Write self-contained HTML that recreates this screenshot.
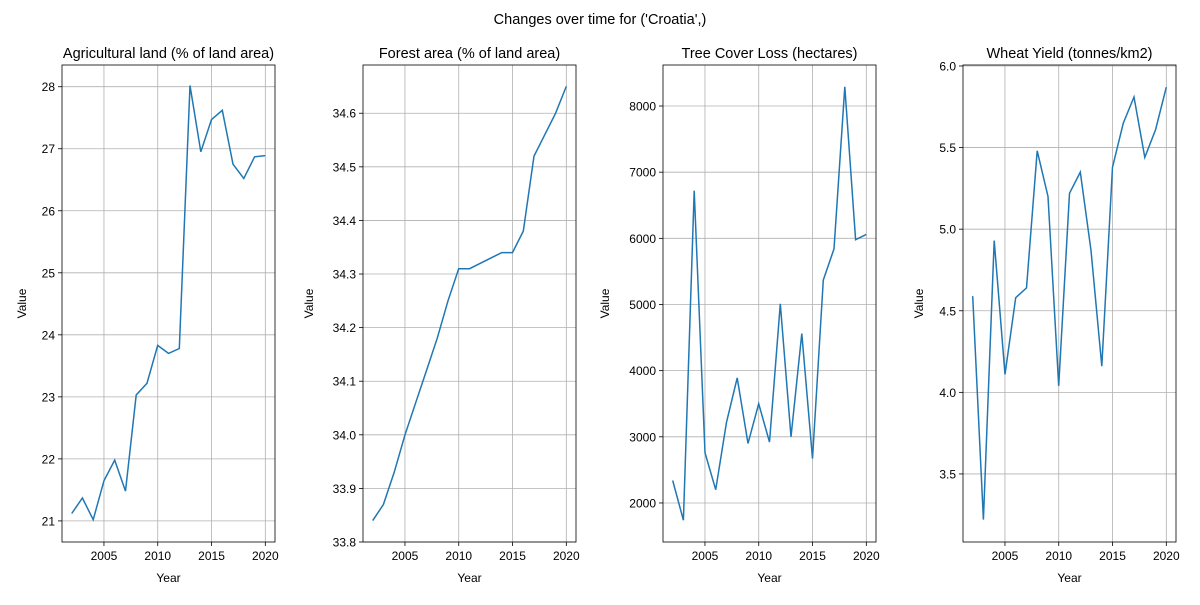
<!DOCTYPE html>
<html><head><meta charset="utf-8"><style>
body{margin:0;background:#fff;font-family:"Liberation Sans","DejaVu Sans",sans-serif;}
</style></head><body>
<svg id="fig" width="1200" height="600" xmlns="http://www.w3.org/2000/svg">
<text x="600" y="24" text-anchor="middle" font-size="14.5">Changes over time for ('Croatia',)</text>
</svg>
<script>
const years=[2002,2003,2004,2005,2006,2007,2008,2009,2010,2011,2012,2013,2014,2015,2016,2017,2018,2019,2020];
const agriValues=[21.12,21.37,21.02,21.65,21.98,21.48,23.03,23.22,23.83,23.70,23.78,28.02,26.95,27.47,27.62,26.75,26.52,26.87,26.89];
const forestValues=[33.84,33.87,33.93,34.00,34.06,34.12,34.18,34.25,34.31,34.31,34.32,34.33,34.34,34.34,34.38,34.52,34.56,34.60,34.65];
const lossValues=[2340,1740,6720,2760,2200,3220,3890,2900,3500,2920,5010,3000,4560,2670,5370,5840,8290,5980,6060];
const wheatValues=[4.59,3.22,4.93,4.11,4.58,4.64,5.48,5.20,4.04,5.22,5.35,4.87,4.16,5.38,5.65,5.81,5.44,5.61,5.87];
const xTicks=[2005,2010,2015,2020];
const agriTicks=[21,22,23,24,25,26,27,28];
const forestTicks=[33.8,33.9,34.0,34.1,34.2,34.3,34.4,34.5,34.6];
const lossTicks=[2000,3000,4000,5000,6000,7000,8000];
const wheatTicks=[3.5,4.0,4.5,5.0,5.5,6.0];
const titles=["Agricultural land (% of land area)","Forest area (% of land area)","Tree Cover Loss (hectares)","Wheat Yield (tonnes/km2)"];
const NS="http://www.w3.org/2000/svg";
const svg=document.getElementById('fig');
function mk(tag,attrs,parent){const e=document.createElementNS(NS,tag);for(const k in attrs)e.setAttribute(k,attrs[k]);(parent||svg).appendChild(e);return e;}
const panels=[
 {left:62,vals:agriValues,ticks:agriTicks,ymin:20.66,ymax:28.35,fmt:v=>String(v),slug:'agricultural-land',ylx:26},
 {left:363,vals:forestValues,ticks:forestTicks,ymin:33.8,ymax:34.69,fmt:v=>v.toFixed(1),slug:'forest-area',ylx:313},
 {left:663,vals:lossValues,ticks:lossTicks,ymin:1410,ymax:8620,fmt:v=>String(v),slug:'tree-cover-loss',ylx:609},
 {left:963,vals:wheatValues,ticks:wheatTicks,ymin:3.083,ymax:6.006,fmt:v=>v.toFixed(1),slug:'wheat-yield',ylx:923}
];
const axTop=65,axBottom=542,axW=213,xmin=2001.1,xmax=2020.9;
panels.forEach((p,i)=>{
 const g=mk('g',{});
 
 
 const X=v=>p.left+(v-xmin)/(xmax-xmin)*axW;
 const Y=v=>axBottom-(v-p.ymin)/(p.ymax-p.ymin)*(axBottom-axTop);
 xTicks.forEach(t=>{
  const x=X(t);
  const gl=mk('line',{x1:x,x2:x,y1:axTop,y2:axBottom,stroke:'#b0b0b0','stroke-width':0.8},g);
  
  
  mk('line',{x1:x,x2:x,y1:axBottom,y2:axBottom+4,stroke:'#000','stroke-width':0.8},g);
  const tl=mk('text',{x:x,y:axBottom+18,'text-anchor':'middle','font-size':12},g);
  tl.textContent=t;
  
  
 });
 p.ticks.forEach(t=>{
  const y=Y(t);
  const gl=mk('line',{x1:p.left,x2:p.left+axW,y1:y,y2:y,stroke:'#b0b0b0','stroke-width':0.8},g);
  
  
  mk('line',{x1:p.left-4,x2:p.left,y1:y,y2:y,stroke:'#000','stroke-width':0.8},g);
  const tl=mk('text',{x:p.left-7,y:y+4.5,'text-anchor':'end','font-size':12},g);
  tl.textContent=p.fmt(t);
  
  
 });
 const pts=years.map((yr,k)=>X(yr).toFixed(1)+','+Y(p.vals[k]).toFixed(1)).join(' ');
 const line=mk('polyline',{points:pts,fill:'none',stroke:'#1f77b4','stroke-width':1.5},g);
 
 
 const fr=mk('rect',{x:p.left,y:axTop,width:axW,height:axBottom-axTop,fill:'none',stroke:'#000','stroke-width':0.8},g);
 
 
 const tt=mk('text',{x:p.left+axW/2,y:58,'text-anchor':'middle','font-size':14.5},g);
 tt.textContent=titles[i];
 
 
 const xl=mk('text',{x:p.left+axW/2,y:582,'text-anchor':'middle','font-size':12},g);
 xl.textContent='Year';
 
 
 const yl=mk('text',{x:0,y:0,'text-anchor':'middle','font-size':12,transform:`translate(${p.ylx},${(axTop+axBottom)/2}) rotate(-90)`},g);
 yl.textContent='Value';
 
 
});
</script>
</body></html>
